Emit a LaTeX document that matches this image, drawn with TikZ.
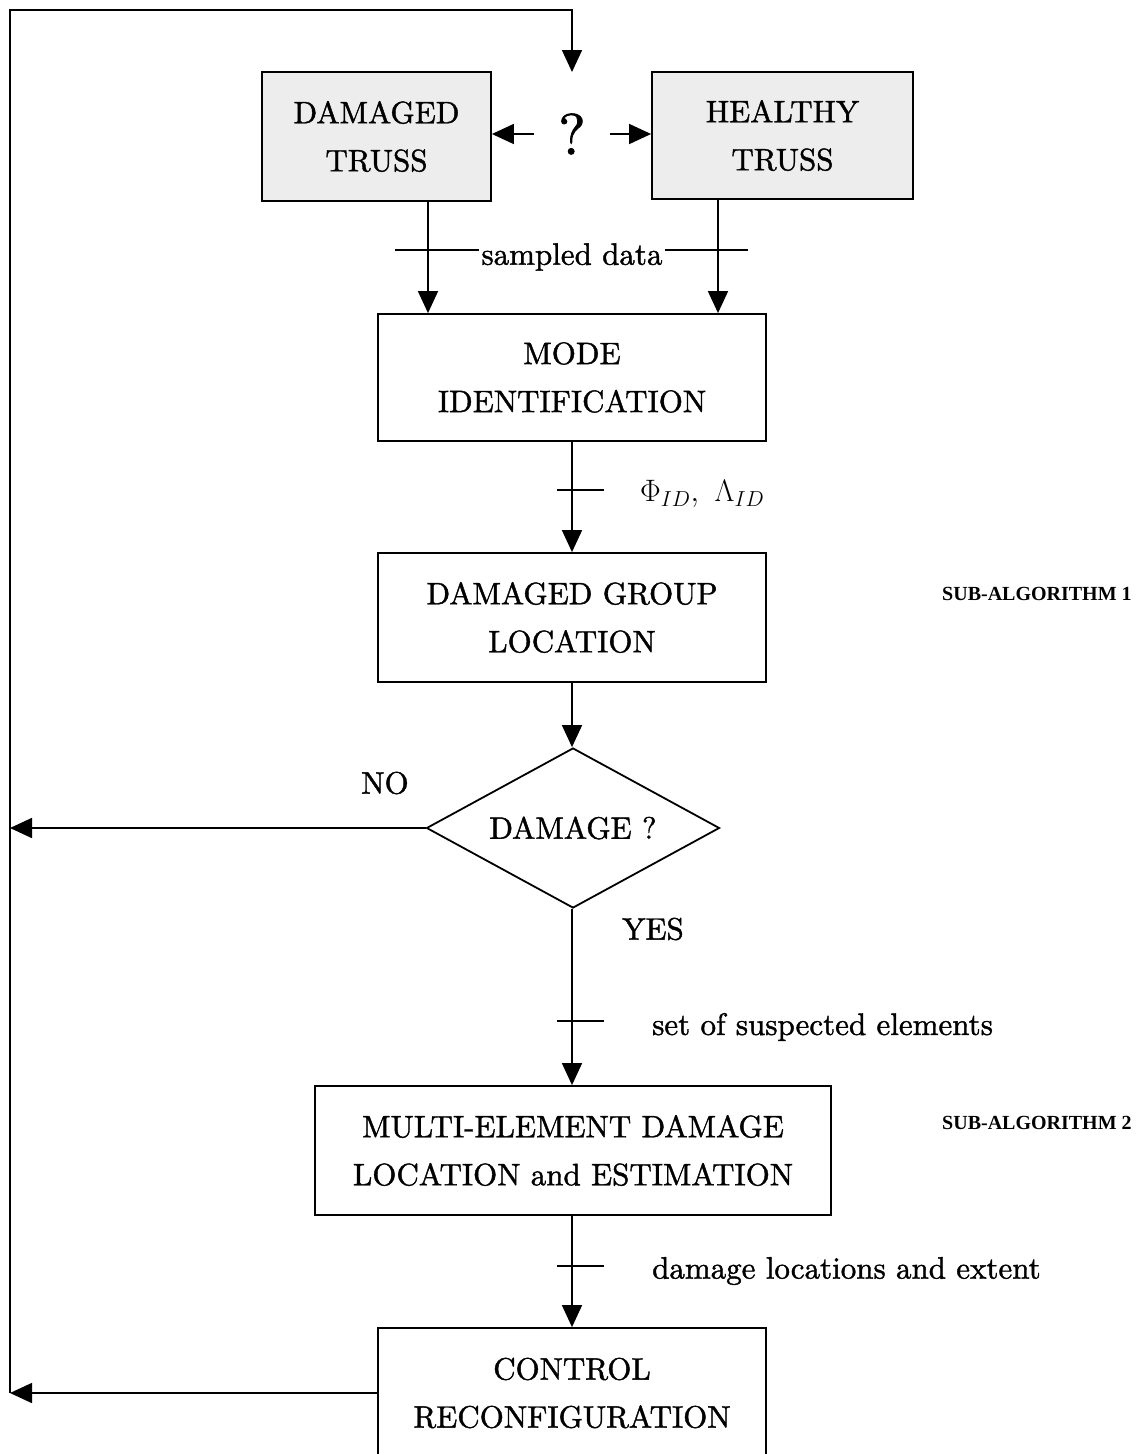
\RequirePackage{fix-cm}
\documentclass[tikz,border=0pt]{standalone}
\usepackage{fontspec}
\setmainfont{lmroman10-regular.otf}[FakeBold=1.3, ItalicFont=lmroman10-italic.otf]
\newfontfamily\subfont{Liberation Serif}
\usetikzlibrary{shapes.geometric,arrows.meta,calc}

\begin{document}
\begin{tikzpicture}[x=1pt,y=-1pt,
  every node/.style={font=\fontsize{31}{48}\selectfont, inner sep=0pt},
  box/.style={draw, line width=1.8pt, align=center},
  shaded/.style={box, fill=gray!14},
  link/.style={line width=1.6pt},
  arr/.style={link, -{Triangle[length=22pt,width=20pt]}},
  tick/.style={line width=1.4pt},
  side/.style={font=\subfont\bfseries\fontsize{20}{22}\selectfont, anchor=west}
]
\useasboundingbox (0,0) rectangle (1142,1454);
\clip (0,0) rectangle (1142,1454);

% the two trusses being compared
\node[shaded, minimum width=229, minimum height=129] (dam) at (376.5,136.5) {DAMAGED\\TRUSS};
\node[shaded, minimum width=261, minimum height=127] (hea) at (782.5,135.5) {HEALTHY\\TRUSS};
\node[font=\fontsize{58}{60}\selectfont, inner xsep=24pt] (q) at (572,134) {?};

% processing chain
\node[box, minimum width=388, minimum height=127] (mode) at (572,377.5) {MODE\\IDENTIFICATION};
\node[box, minimum width=388, minimum height=129] (grp) at (572,617.5) {DAMAGED GROUP\\LOCATION};
\node[draw, diamond, line width=1.8pt, shape aspect=1.83, minimum width=293, minimum height=160] (dmg) at (573,828) {DAMAGE ?};
\node[box, minimum width=516, minimum height=129] (multi) at (573,1150.5) {MULTI-ELEMENT DAMAGE\\LOCATION and ESTIMATION};
\node[box, minimum width=388, minimum height=130] (ctrl) at (572,1393) {CONTROL\\RECONFIGURATION};

% labels
\node[inner xsep=2pt] (samp) at (572,257) {sampled data};
\node[anchor=west] (phi) at (640,494) {$\Phi_{ID},\ \Lambda_{ID}$};
\node[anchor=west] (sus) at (652,1027) {set of suspected elements};
\node[anchor=west] (ext) at (652,1271) {damage locations and extent};
\node (no) at (385,783) {NO};
\node (yes) at (653,929) {YES};
\node[side] (sub1) at (942,594) {SUB-ALGORITHM 1};
\node[side] (sub2) at (942,1123) {SUB-ALGORITHM 2};

% loop-back route
\coordinate (qtop) at (572,72);
\coordinate (lt) at (10,10);
\coordinate (lno) at (10,828);
\coordinate (lbot) at (10,1393);

% connectors
\draw[arr] (q.west) -- (q.west -| dam.east);
\draw[arr] (q.east) -- (q.east -| hea.west);
\draw[arr] ([xshift=51.5]dam.south) -- ([xshift=51.5]dam.south |- mode.north);
\draw[arr] ([xshift=-64.5]hea.south) -- ([xshift=-64.5]hea.south |- mode.north);
\draw[arr] (mode.south) -- (grp.north);
\draw[arr] (grp.south) -- (grp.south |- dmg.north);
\draw[arr] (grp.south |- dmg.south) -- (grp.south |- multi.north);
\draw[arr] (grp.south |- multi.south) -- (ctrl.north);
\draw[arr] (dmg.west) -- (lno);
\draw[arr] (ctrl.west) -- (lbot);
\draw[arr] (lbot) -- (lt) -| (qtop);

% tick marks across the data paths
\coordinate (sl) at (395,250);
\coordinate (sr) at (748,250);
\draw[tick] (sl) -- (sl -| samp.west);
\draw[tick] (sr -| samp.east) -- (sr);
\coordinate (t1) at (572,490);
\coordinate (t2) at (572,1021);
\coordinate (t3) at (572,1266);
\foreach \t in {t1,t2,t3}
  \draw[tick] ($(\t)+(-15,0)$) -- ($(\t)+(32,0)$);
\end{tikzpicture}
\end{document}
